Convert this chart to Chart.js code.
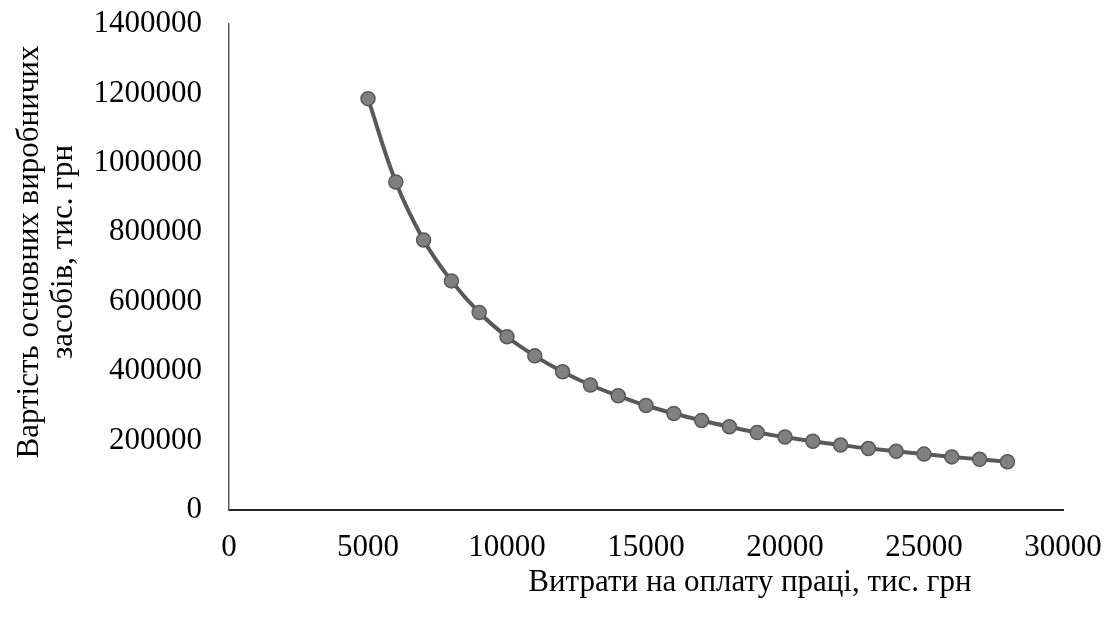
<!DOCTYPE html>
<html>
<head>
<meta charset="utf-8">
<script src="https://cdn.jsdelivr.net/npm/chart.js@4"></script>
<style>
  html, body { margin: 0; padding: 0; background: #fff; }
  #wrap { width: 1113px; height: 622px; }
</style>
</head>
<body>
<div id="wrap"><canvas id="graph"></canvas></div>
<script>
// витрати на оплату праці, тис. грн
const xValues = [5000, 6000, 7000, 8000, 9000, 10000, 11000, 12000, 13000, 14000, 15000, 16000,
                 17000, 18000, 19000, 20000, 21000, 22000, 23000, 24000, 25000, 26000, 27000, 28000]
// вартість основних виробничих засобів, тис. грн
const yValues = [1185000, 945000, 778000, 660000, 569000, 499000, 444000, 398000, 360000, 329000, 301000, 278000,
                 258000, 240000, 223000, 210000, 198000, 187000, 177000, 169000, 161000, 153000, 146000, 139000]
const xTitle = 'Витрати на оплату праці, тис. грн'
const yTitle = ['Вартість основних виробничих', 'засобів, тис. грн']

const serif = '"Liberation Serif", "Times New Roman", serif'

// подписи осей рисуем сами — в оригинале они сдвинуты
const axisTitles = {
    id: 'axisTitles',
    afterDraw(chart) {
        const ctx = chart.ctx
        ctx.save()
        ctx.font = '31px ' + serif
        ctx.fillStyle = '#000'
        ctx.textAlign = 'center'
        ctx.textBaseline = 'middle'
        ctx.fillText(xTitle, 750, 583)
        ctx.translate(0, 252)
        ctx.rotate(-Math.PI / 2)
        ctx.fillText(yTitle[0], 0, 30)
        ctx.fillText(yTitle[1], 0, 64)
        ctx.restore()
    }
}

document.addEventListener("DOMContentLoaded", function() {
    let context = document.querySelector("#graph").getContext('2d')
    new Chart(context, {
        type: 'scatter',
        data: {
            datasets: [{
                data: xValues.map((x, i) => ({x: x, y: yValues[i]})),
                showLine: true,
                tension: 0.4,
                borderColor: '#595959',
                borderWidth: 4,
                pointBackgroundColor: '#808080',
                pointBorderColor: '#595959',
                pointBorderWidth: 1.5,
                pointRadius: 7,
            }],
        },
        options: {
            responsive: true,
            maintainAspectRatio: false,
            animation: false,
            layout: { padding: {top: 24, right: 50, left: 0, bottom: 0} },
            plugins: {
                legend: { display: false },
                tooltip: { enabled: false },
            },
            scales: {
                x: {
                    type: 'linear',
                    min: 0,
                    max: 30000,
                    afterFit: (s) => {
                        s.height = 112
                        s.paddingLeft = 0
                        s.paddingRight = 0
                    },
                    ticks: {
                        stepSize: 5000,
                        color: '#000',
                        padding: 19,
                        maxRotation: 0,
                        font: { family: serif, size: 31 },
                        callback: (v) => String(v),
                    },
                    grid: { display: false, drawTicks: false },
                    border: { color: '#262626', width: 2 },
                },
                y: {
                    min: 0,
                    max: 1400000,
                    afterFit: (s) => {
                        s.width = 229
                        s.paddingTop = 0
                        s.paddingBottom = 0
                    },
                    ticks: {
                        stepSize: 200000,
                        color: '#000',
                        padding: 27,
                        font: { family: serif, size: 31 },
                        callback: (v) => String(v),
                    },
                    grid: { display: false, drawTicks: false },
                    border: { color: '#595959', width: 1.5 },
                },
            },
        },
        plugins: [axisTitles],
    })
})
</script>
</body>
</html>
